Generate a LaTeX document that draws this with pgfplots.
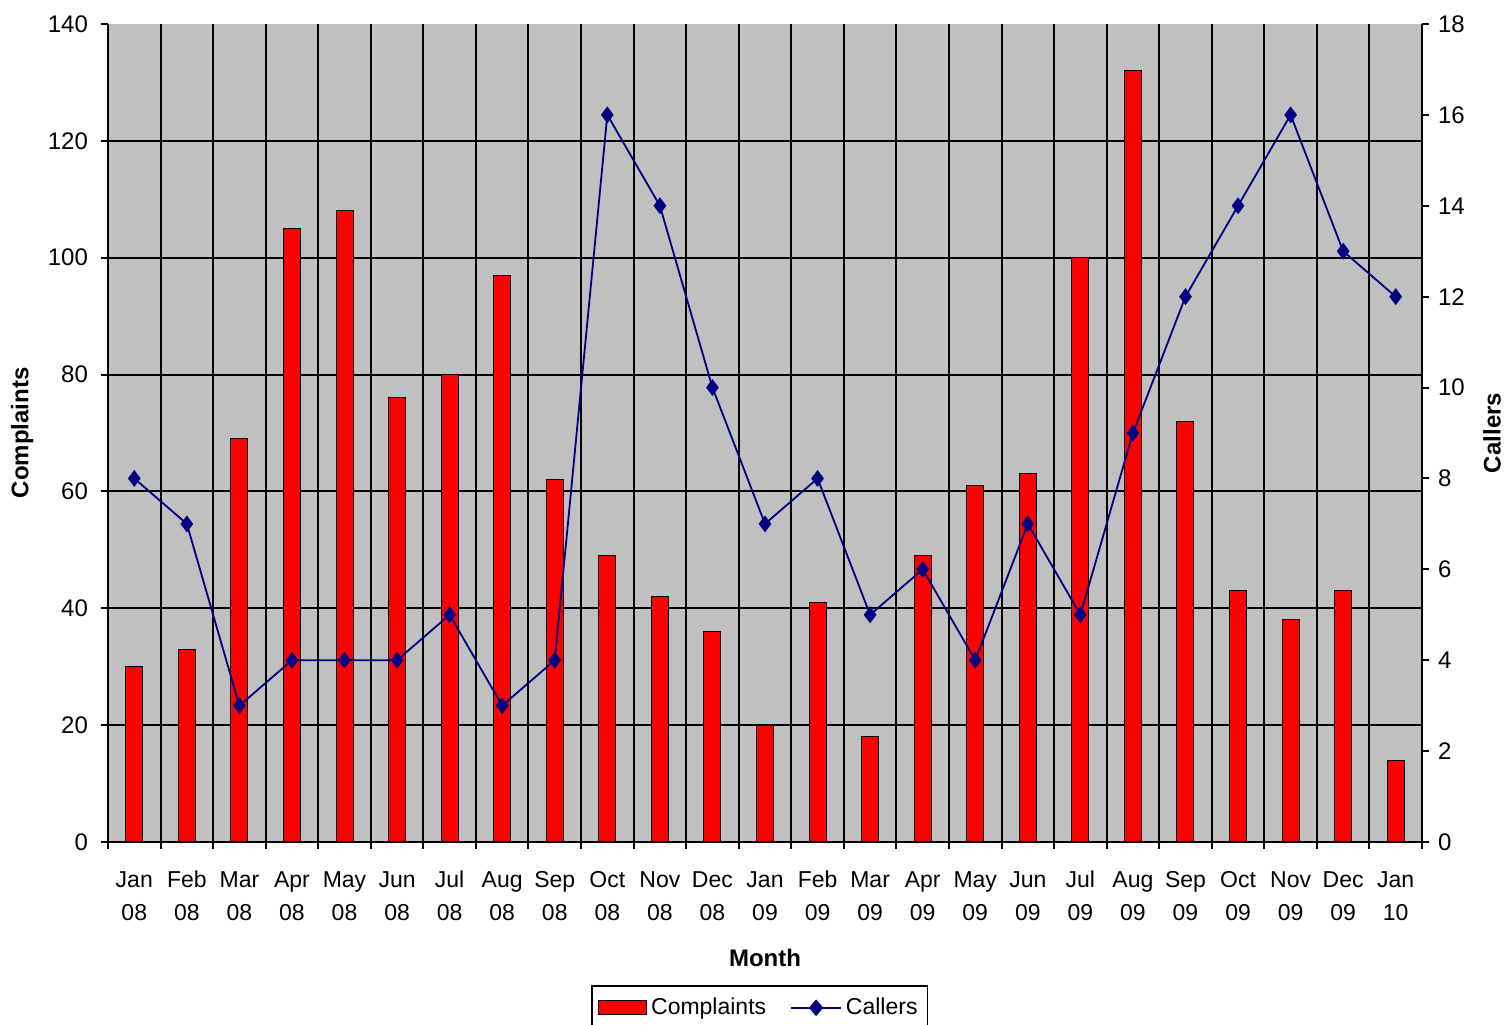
\documentclass[border=0pt]{standalone}
\usepackage{fontspec}
\setmainfont{Liberation Sans}
\usepackage{pgfplots}
\pgfplotsset{compat=1.18}
\definecolor{plotbg}{RGB}{192,192,192}
\definecolor{navyc}{RGB}{0,0,128}
\begin{document}
\begin{tikzpicture}
\begin{axis}[name=main,
  scale only axis, width=657pt, height=409pt,
  xmin=-0.5, xmax=24.5, ymin=0, ymax=140,
  axis background/.style={fill=plotbg},
  axis x line*=bottom, axis y line*=left,
  axis line style={black, line width=1pt, -},
  ytick={0,20,...,120}, extra y ticks={140}, extra y tick style={grid=none},
  ymajorgrids, major grid style={black, line width=1pt},
  xtick={0,...,24},
  xticklabels={{\strut Jan\\\strut 08},{\strut Feb\\\strut 08},{\strut Mar\\\strut 08},{\strut Apr\\\strut 08},{\strut May\\\strut 08},{\strut Jun\\\strut 08},{\strut Jul\\\strut 08},{\strut Aug\\\strut 08},{\strut Sep\\\strut 08},{\strut Oct\\\strut 08},{\strut Nov\\\strut 08},{\strut Dec\\\strut 08},{\strut Jan\\\strut 09},{\strut Feb\\\strut 09},{\strut Mar\\\strut 09},{\strut Apr\\\strut 09},{\strut May\\\strut 09},{\strut Jun\\\strut 09},{\strut Jul\\\strut 09},{\strut Aug\\\strut 09},{\strut Sep\\\strut 09},{\strut Oct\\\strut 09},{\strut Nov\\\strut 09},{\strut Dec\\\strut 09},{\strut Jan\\\strut 10}},
  minor xtick={-0.5,0.5,...,24.5}, xminorgrids, minor grid style={black, line width=1pt},
  major x tick style={draw=none},
  tick style={black, line width=1pt},
  tick align=outside, major tick length=3.5pt, minor tick length=3.5pt,
  ybar, bar width=8.5pt,
  yticklabel style={font=\fontsize{12}{14}\selectfont, xshift=-3pt},
  xticklabel style={align=center, font=\fontsize{11.5}{16.5}\selectfont, yshift=-4pt},
  /pgf/number format/assume math mode=true,
  ylabel={\bfseries Complaints},
  ylabel style={at={(axis description cs:-0.0654,0.5)}, anchor=center, font=\fontsize{12}{14}\selectfont},
  xlabel={\bfseries Month},
  xlabel style={at={(axis description cs:0.5,-0.1418)}, anchor=center, font=\fontsize{12}{14}\selectfont},
]
\addplot[fill=red, draw=black, line width=0.5pt] coordinates {
(0,30) (1,33) (2,69) (3,105) (4,108) (5,76) (6,80) (7,97) (8,62) (9,49) (10,42) (11,36)
(12,20) (13,41) (14,18) (15,49) (16,61) (17,63) (18,100) (19,132) (20,72) (21,43) (22,38) (23,43) (24,14)};
\end{axis}
\begin{axis}[
  scale only axis, width=657pt, height=409pt,
  xmin=-0.5, xmax=24.5, ymin=0, ymax=18,
  axis y line*=right, axis x line=none,
  axis line style={black, line width=1pt, -},
  ytick={0,2,...,18},
  tick style={black, line width=1pt},
  tick align=outside, major tick length=3.5pt,
  yticklabel style={font=\fontsize{12}{14}\selectfont, xshift=1pt},
  /pgf/number format/assume math mode=true,
  ylabel={\bfseries Callers},
  ylabel style={at={(axis description cs:1.0533,0.5)}, anchor=center, rotate=0, font=\fontsize{12}{14}\selectfont},
  legend columns=2,
  legend style={at={(axis description cs:0.496,-0.175)}, anchor=north, draw=black, line width=0.8pt, fill=white,
    font=\fontsize{11.5}{13}\selectfont, inner xsep=3pt, inner ysep=4pt,
    /tikz/every even column/.style={column sep=10pt}},
]
\addlegendimage{legend image code/.code={\draw[fill=red, draw=black, line width=0.6pt] (0pt,-3.5pt) rectangle (24pt,3.5pt);}}
\addlegendentry{Complaints}
\addplot[navyc, line width=0.9pt, mark=diamond*, mark size=3.5pt, mark options={solid, fill=navyc},
  legend image code/.code={\draw[navyc, line width=0.9pt] (0pt,0pt) -- (25pt,0pt); \fill[navyc] (12.5pt,3.5pt) -- (15.5pt,0pt) -- (12.5pt,-3.5pt) -- (9.5pt,0pt) -- cycle;}]
 coordinates {
(0,8) (1,7) (2,3) (3,4) (4,4) (5,4) (6,5) (7,3) (8,4) (9,16) (10,14) (11,10)
(12,7) (13,8) (14,5) (15,6) (16,4) (17,7) (18,5) (19,9) (20,12) (21,14) (22,16) (23,13) (24,12)};
\addlegendentry{Callers}
\end{axis}
\pgfresetboundingbox
\path ([xshift=-54pt,yshift=-91.5pt]main.south west) rectangle ([xshift=43pt,yshift=12pt]main.north east);
\end{tikzpicture}
\end{document}
